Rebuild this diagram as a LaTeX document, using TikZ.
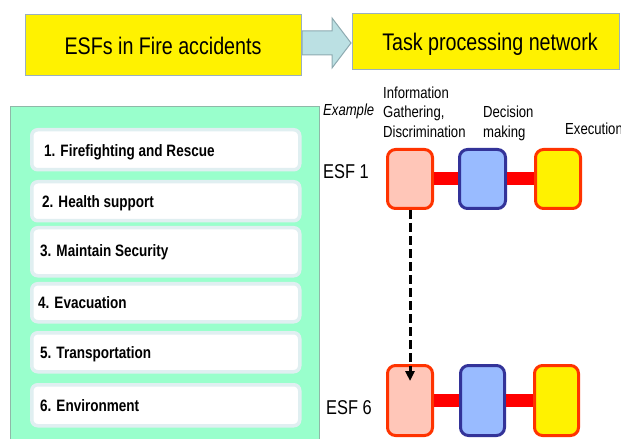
\documentclass[tikz,border=0pt]{standalone}
\usepackage{fontspec}
\setmainfont{Liberation Sans}[FakeStretch=0.82]
\usetikzlibrary{arrows.meta}

\definecolor{panelgreen}{HTML}{99FFCC}
\definecolor{paneledge}{HTML}{8FB8A8}
\definecolor{halo}{HTML}{E0EFF1}
\definecolor{titleedge}{HTML}{9AB0BE}
\definecolor{arrowfill}{HTML}{BBE0E3}
\definecolor{arrowedge}{HTML}{8DAAB0}
\definecolor{gatherfill}{HTML}{FFC6B8}
\definecolor{hotedge}{HTML}{FF3300}
\definecolor{decidefill}{HTML}{99BBFF}
\definecolor{decideedge}{HTML}{333399}
\definecolor{linkred}{HTML}{FF0000}

\begin{document}
\begin{tikzpicture}[x=1bp,y=-1bp,
  titlebox/.style={draw=titleedge, line width=1bp, fill=yellow, inner sep=0pt, anchor=north west},
  titletext/.style={anchor=base, inner sep=0pt, font=\fontsize{24bp}{28bp}\selectfont},
  listbox/.style={draw=halo, line width=3.5bp, fill=white, rounded corners=6bp, inner sep=0pt, anchor=north west, minimum width=268bp},
  listtext/.style={anchor=base west, inner sep=0pt, font=\bfseries\fontsize{16.5bp}{19bp}\selectfont},
  esftext/.style={anchor=base west, inner sep=0pt, font=\fontsize{20bp}{24bp}\selectfont},
  phasetext/.style={anchor=base west, inner sep=0pt, font=\fontsize{16bp}{19bp}\selectfont},
  stage/.style={line width=3bp, rounded corners=8bp, inner sep=0pt, anchor=north west},
  gather/.style={stage, draw=hotedge, fill=gatherfill},
  decide/.style={stage, draw=decideedge, fill=decidefill},
  execute/.style={stage, draw=hotedge, fill=yellow},
  link/.style={draw=linkred, line width=13bp},
  handoff/.style={draw=black, line width=3bp, dash pattern=on 9bp off 4bp,
    -{Triangle[length=10bp,width=9bp]}}
]
\useasboundingbox (0,0) rectangle (621,439);

% header boxes and the block arrow between them
\node[titlebox, minimum width=276bp, minimum height=61bp] (esfbox) at (25,14) {};
\node[titlebox, minimum width=267bp, minimum height=56bp] (netbox) at (352,13) {};
\node[titletext] (esftitle) at (163,55) {ESFs in Fire accidents};
\node[titletext] (nettitle) at (490,51) {Task processing network};
\draw[fill=arrowfill, draw=arrowedge, line width=1bp]
  (302,31) -- (332,31) -- (332,18) -- (351,43) -- (332,68) -- (332,55) -- (302,55) -- cycle;

% green panel listing the ESFs
\draw[fill=panelgreen, draw=paneledge, line width=1bp] (10,107) rectangle (319,445);
\node[listbox, minimum height=40bp] (l1) at (30,128) {};
\node[listbox, minimum height=39bp] (l2) at (30,180) {};
\node[listbox, minimum height=48bp] (l3) at (30,226) {};
\node[listbox, minimum height=38bp] (l4) at (30,282) {};
\node[listbox, minimum height=39bp] (l5) at (30,331) {};
\node[listbox, minimum height=41bp] (l6) at (30,383) {};
\node[listtext] (t1) at (44,157) {1. Firefighting and Rescue};
\node[listtext] (t2) at (42,208) {2. Health support};
\node[listtext] (t3) at (40,257) {3. Maintain Security};
\node[listtext] (t4) at (38,309) {4. Evacuation};
\node[listtext] (t5) at (40,358) {5. Transportation};
\node[listtext] (t6) at (40,411) {6. Environment};

% phase headings
\node[phasetext, font=\itshape\fontsize{16bp}{19bp}\selectfont] (example) at (323,116) {Example};
\node[phasetext] (info1) at (383,99) {Information};
\node[phasetext] (info2) at (383,118) {Gathering,};
\node[phasetext] (info3) at (383,138) {Discrimination};
\node[phasetext] (dec1) at (483,118) {Decision};
\node[phasetext] (dec2) at (483,138) {making};
\node[phasetext] (exec) at (565,135) {Execution};

% ESF 1 chain
\node[esftext] (esf1) at (323,179) {ESF 1};
\node[gather,  minimum width=45bp, minimum height=59bp] (g1) at (386,148) {};
\node[decide,  minimum width=46bp, minimum height=59bp] (d1) at (458,148) {};
\node[execute, minimum width=45bp, minimum height=59bp] (e1) at (534,148) {};
\draw[link] (g1.east) -- (d1.west);
\draw[link] (d1.east) -- (e1.west);

% ESF 6 chain
\node[esftext] (esf6) at (326,414) {ESF 6};
\node[gather,  minimum width=45bp, minimum height=70bp] (g6) at (386,364) {};
\node[decide,  minimum width=44bp, minimum height=70bp] (d6) at (459,364) {};
\node[execute, minimum width=44bp, minimum height=70bp] (e6) at (533,364) {};
\draw[link] (g6.east) -- (d6.west);
\draw[link] (d6.east) -- (e6.west);

% hand-off from ESF 1 to ESF 6
\coordinate (drop) at (g1.south |- 0,381);
\draw[handoff] (g1.south) -- (drop);
\end{tikzpicture}
\end{document}
